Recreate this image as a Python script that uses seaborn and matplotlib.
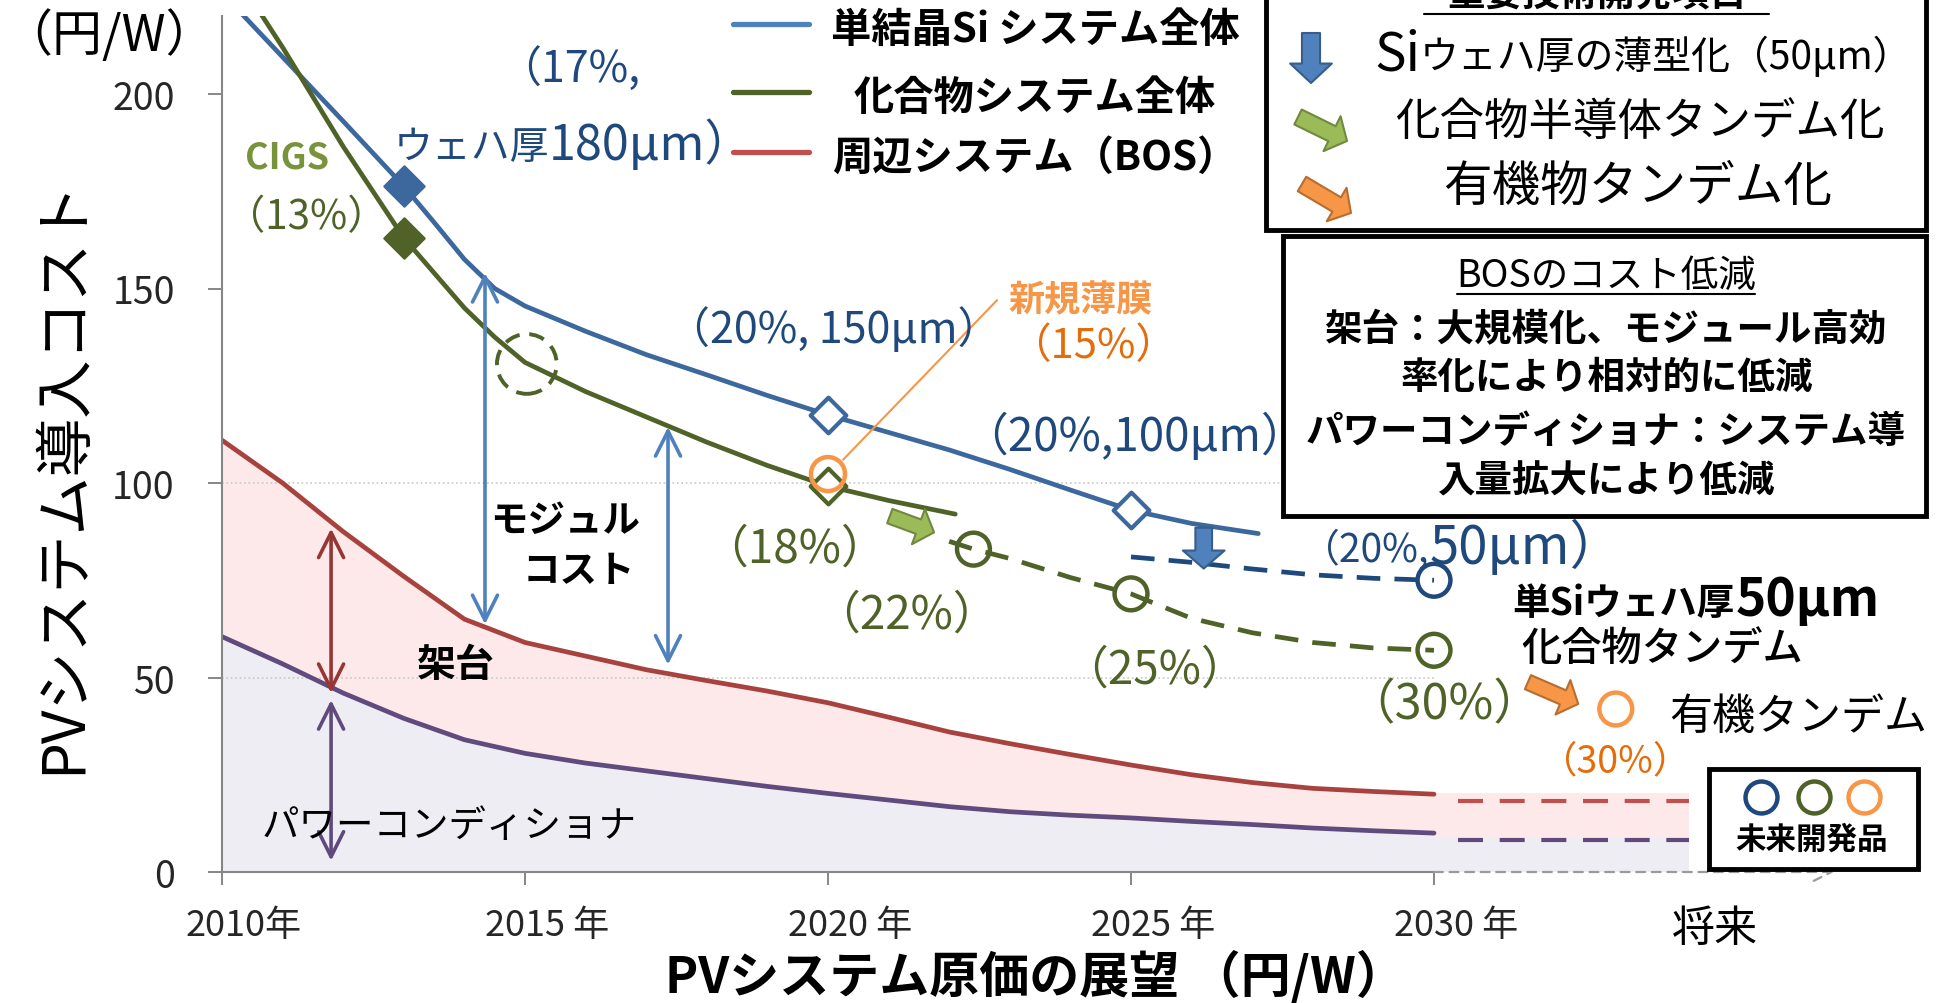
import matplotlib
matplotlib.use("Agg")
import matplotlib.pyplot as plt
import matplotlib.patches as mpatches
from matplotlib.lines import Line2D
from matplotlib.transforms import ScaledTranslation
import seaborn as sns

# ---- data (円/W) ----
years = [2010, 2011, 2012, 2013, 2014, 2015, 2016, 2017, 2018, 2019, 2020,
         2021, 2022, 2023, 2024, 2025, 2026, 2027, 2028, 2029, 2030]
bos_total = [111, 100, 87.5, 76, 65, 59, 55.5, 52, 49.2, 46.5, 43.5,
             39.8, 36, 33, 30.2, 27.5, 25, 23, 21.5, 20.7, 20]
power_cond = [60.5, 53.5, 46, 39.5, 34, 30.5, 28, 26, 24, 22, 20.2,
              18.5, 16.8, 15.5, 14.6, 13.9, 13, 12.2, 11.3, 10.6, 10]

si_years = [2010, 2011, 2012, 2013, 2013.5, 2014, 2014.5, 2015, 2016, 2017,
            2018, 2019, 2020, 2021, 2022, 2023, 2024, 2025, 2026, 2027.1]
si_cost = [226, 209.5, 193, 176.3, 167, 157.5, 150, 145.5, 139, 133,
           127.8, 122.5, 117.5, 113, 108.5, 103.5, 98.2, 93, 89.6, 87]

comp_years = [2010, 2011, 2012, 2013, 2014, 2014.5, 2015, 2016, 2017, 2018,
              2019, 2020, 2021, 2022.1]
comp_cost = [236, 212, 186.5, 163, 145, 137.5, 131, 123.5, 117, 110.5,
             104.5, 99.2, 95.5, 92]

si_fut_years = [2025, 2026, 2027, 2028, 2029, 2030]
si_fut_cost = [81, 79.6, 77.9, 76.4, 75.5, 75]
comp_fut_years = [2022.0, 2022.4, 2023, 2024, 2025, 2026, 2027, 2028, 2029, 2030]
comp_fut_cost = [85, 83, 80.6, 75.7, 71.5, 65.2, 61.5, 59, 57.6, 57]

si_filled = ([2013], [176.3])
si_hollow = ([2020, 2025], [117.5, 93])
comp_filled = ([2013], [163])
comp_hollow = ([2020], [99.2])
si_future_pt = ([2030], [75])
comp_future_pts = ([2022.4, 2025, 2030], [83, 71.5, 57])
thin_film_pt = ([2020], [102.3])
organic_pt = ([2033.0], [41.9])
cigs_pt = ([2015.03], [130.6])

fut_fill_years = [2030, 2034.2]
fut_bos_top = [20.2, 20.2]
fut_pc_top = [8.8, 8.8]
fut_line_years = [2030.4, 2034.2]
fut_bos = [18.3, 18.3]
fut_pc = [8.2, 8.2]

tick_years = [2010, 2015, 2020, 2025, 2030]
tick_labels = ["2010年", "2015 年", "2020 年", "2025 年", "2030 年"]
ytick_vals = [0, 50, 100, 150, 200]

# ---- figure ----
sns.set_style("white")
plt.rcParams['font.family'] = ['Noto Sans CJK JP', 'DejaVu Sans']

W, H = 1948, 1004
fig = plt.figure(figsize=(W / 100, H / 100), dpi=100)
ax = fig.add_axes([222 / W, 131 / H, (W - 222) / W, (873 - 17) / H])
ax.set_xlim(2010, 2010 + (W - 222) / 60.6)
ax.set_ylim(0, 856 / 3.89)


def fx(x):
    return x / W


def fy(y):
    return 1 - y / H


def put(x, y, s, size, color='black', weight='normal', ha='center', **kw):
    fig.text(fx(x), fy(y), s, fontsize=size, color=color, fontweight=weight,
             ha=ha, va='center', **kw)


GREY = '#868686'
BLUE = '#3C689E'
DBLUE = '#1F497D'
GREEN = '#4F6228'
RED = '#A8423F'
PURPLE = '#5F4B7D'
ORANGE = '#F79646'
DORANGE = '#E46C0A'

# fills
ax.fill_between(years, 0, power_cond, color='#EFEDF4', lw=0, zorder=0)
ax.fill_between(years, power_cond, bos_total, color='#FDE9E9', lw=0, zorder=0)
ax.fill_between(fut_fill_years, 0, fut_pc_top, color='#EFEDF4', lw=0, zorder=0)
ax.fill_between(fut_fill_years, fut_pc_top, fut_bos_top, color='#FDE9E9', lw=0, zorder=0)

ax.hlines([50, 100], 2010, 2030, colors='#C8C8C8', linestyles=':', lw=1.2, zorder=0.5)

# lines
sns.lineplot(x=years, y=bos_total, ax=ax, color=RED, lw=3.4)
sns.lineplot(x=years, y=power_cond, ax=ax, color=PURPLE, lw=3.4)
sns.lineplot(x=si_years, y=si_cost, ax=ax, color=BLUE, lw=3.4)
sns.lineplot(x=comp_years, y=comp_cost, ax=ax, color=GREEN, lw=3.4)
sns.lineplot(x=si_fut_years, y=si_fut_cost, ax=ax, color=DBLUE, lw=3.4,
             linestyle=(0, (5, 3)))
sns.lineplot(x=comp_fut_years, y=comp_fut_cost, ax=ax, color=GREEN, lw=3.4,
             linestyle=(0, (5, 3)))
sns.lineplot(x=fut_line_years, y=fut_bos, ax=ax, color='#C0504D', lw=3,
             linestyle=(0, (6, 4)))
sns.lineplot(x=fut_line_years, y=fut_pc, ax=ax, color='#604A7B', lw=3,
             linestyle=(0, (6, 4)))

# markers
sns.scatterplot(x=si_filled[0], y=si_filled[1], ax=ax, marker='D', s=420,
                color=BLUE, edgecolor=BLUE, zorder=5)
sns.scatterplot(x=comp_filled[0], y=comp_filled[1], ax=ax, marker='D', s=420,
                color=GREEN, edgecolor=GREEN, zorder=5)
sns.scatterplot(x=si_hollow[0], y=si_hollow[1], ax=ax, marker='D', s=330,
                facecolor='white', edgecolor=BLUE, linewidth=3, zorder=5)
sns.scatterplot(x=comp_hollow[0], y=comp_hollow[1], ax=ax, marker='D', s=330,
                facecolor='white', edgecolor=GREEN, linewidth=3, zorder=5)
sns.scatterplot(x=comp_future_pts[0], y=comp_future_pts[1], ax=ax, marker='o',
                s=560, facecolor='none', edgecolor=GREEN, linewidth=3.2, zorder=5)
sns.scatterplot(x=si_future_pt[0], y=si_future_pt[1], ax=ax, marker='o',
                s=560, facecolor='none', edgecolor=DBLUE, linewidth=3.2, zorder=5)
sns.scatterplot(x=thin_film_pt[0], y=thin_film_pt[1], ax=ax, marker='o',
                s=600, facecolor='none', edgecolor=ORANGE, linewidth=3.2, zorder=6)
sns.scatterplot(x=organic_pt[0], y=organic_pt[1], ax=ax, marker='o',
                s=560, facecolor='none', edgecolor=ORANGE, linewidth=3.2, zorder=6)
sns.scatterplot(x=cigs_pt[0], y=cigs_pt[1], ax=ax, marker='o', s=1850,
                facecolor='none', edgecolor=GREEN, linewidth=2.8,
                linestyle=(0, (4, 2.5)), zorder=5)

# connector to 新規薄膜
ax.plot([2020.25, 2022.79], [106, 147], color=ORANGE, lw=1.5, zorder=4)


# double arrows
def dbl(x, y0, y1, c):
    ax.annotate('', xy=(x, y1), xytext=(x, y0),
                arrowprops=dict(arrowstyle='<->,head_length=0.9,head_width=0.45',
                                color=c, lw=2.6, shrinkA=0, shrinkB=0,
                                mutation_scale=20), zorder=4)


dbl(2014.34, 63.7, 154, '#4F81BD')
dbl(2017.36, 53.3, 114.4, '#4F81BD')
dbl(2011.8, 46, 88.3, '#953735')
dbl(2011.8, 2.9, 44.2, '#604A7B')


# block arrows
def block(p0, p1, fc, ec, transform, hl=13, hw=30, tw=12):
    fig.add_artist(mpatches.FancyArrowPatch(
        p0, p1, transform=transform, mutation_scale=1,
        arrowstyle=f'simple,head_length={hl},head_width={hw},tail_width={tw}',
        fc=fc, ec=ec, lw=1.5, shrinkA=0, shrinkB=0, zorder=6))


block((2026.2, 88.5), (2026.2, 78), '#4F81BD', '#385D8A', ax.transData)
block((2021.02, 91.5), (2021.75, 87.3), '#9BBB59', '#71893F', ax.transData,
      hl=12, hw=27, tw=11)
block((2031.55, 48.8), (2032.38, 43.2), ORANGE, '#B66D31', ax.transData,
      hl=12, hw=27, tw=11)

# axes styling
ax.set_xticks(tick_years)
ax.set_xticklabels(tick_labels)
ax.set_yticks(ytick_vals)
ax.tick_params(axis='x', length=9.5, width=1.4, color=GREY, pad=16, labelsize=26,
               bottom=True)
ax.tick_params(axis='y', length=10, width=1.4, color=GREY, pad=24, labelsize=27,
               left=True)
for lab in ax.get_xticklabels():
    lab.set_transform(lab.get_transform() + ScaledTranslation(0.22, 0, fig.dpi_scale_trans))
for s in ['top', 'right']:
    ax.spines[s].set_visible(False)
for s in ['left', 'bottom']:
    ax.spines[s].set_color(GREY)
    ax.spines[s].set_linewidth(1.5)
ax.spines['bottom'].set_bounds(2010, 2030)
fig.add_artist(mpatches.FancyArrowPatch(
    (2030, 0), (2036.6, 0), transform=ax.transData, mutation_scale=16,
    arrowstyle='->,head_length=0.8,head_width=0.4', color='#9A9A9A', lw=1.6,
    ls=(0, (4, 3)), shrinkA=0, shrinkB=0))
ax.set_xlabel('')
ax.set_ylabel('')

# axis titles
put(2, 37, '（円/W）', 36, ha='left')
put(64, 476, 'PVシステム導入コスト', 42, rotation=90)
put(1035, 978, 'PVシステム原価の展望 （円/W）', 36, weight='bold')
put(1715, 930, '将来', 31)

# top legend
for yy, c, lab in [(25, '#4F81BD', '単結晶Si システム全体'),
                   (93, GREEN, '化合物システム全体'),
                   (153, '#C0504D', '周辺システム（BOS）')]:
    fig.add_artist(Line2D([fx(733), fx(809)], [fy(yy), fy(yy)],
                          transform=fig.transFigure, color=c, lw=3.8))
    put(1035, yy + 5, lab, 29, weight='bold')

# box 1: 重要技術開発項目
fig.add_artist(mpatches.Rectangle((fx(1266), fy(231)), (1926 - 1266) / W, (231 + 20) / H,
                                  transform=fig.transFigure, fc='white', ec='black', lw=3.5))
put(1597, -6, '重要技術開発項目', 27, weight='bold')
fig.add_artist(Line2D([fx(1424), fx(1769)], [fy(15), fy(15)], transform=fig.transFigure,
                      color='black', lw=1.5))
put(1420, 55, 'Si', 38, ha='right')
put(1420, 57, 'ウェハ厚の薄型化（50μm）', 28, ha='left')
put(1640, 122, '化合物半導体タンデム化', 32)
put(1638, 187, '有機物タンデム化', 35)
block((fx(1311), fy(34)), (fx(1311), fy(84)), '#4F81BD', '#385D8A', fig.transFigure,
      hl=14, hw=30, tw=13)
block((fx(1298), fy(118)), (fx(1347), fy(142)), '#9BBB59', '#71893F', fig.transFigure,
      hl=12, hw=28, tw=12)
block((fx(1302), fy(185)), (fx(1351), fy(214)), ORANGE, '#B66D31', fig.transFigure,
      hl=12, hw=28, tw=12)

# box 2: BOS
fig.add_artist(mpatches.Rectangle((fx(1283), fy(517)), (1926 - 1283) / W, (517 - 237) / H,
                                  transform=fig.transFigure, fc='white', ec='black', lw=3.5))
put(1606, 276, 'BOSのコスト低減', 27)
fig.add_artist(Line2D([fx(1457), fx(1755)], [fy(295), fy(295)], transform=fig.transFigure,
                      color='black', lw=1.5))
put(1605, 330, '架台：大規模化、モジュール高効', 27, weight='bold')
put(1607, 377, '率化により相対的に低減', 27, weight='bold')
put(1606, 432, 'パワーコンディショナ：システム導', 27, weight='bold')
put(1607, 481, '入量拡大により低減', 27, weight='bold')

# small legend box
fig.add_artist(mpatches.Rectangle((fx(1709), fy(870)), (1918 - 1709) / W, 100 / H,
                                  transform=fig.transFigure, fc='white', ec='black', lw=3.5))
for cx, c in [(1761, DBLUE), (1814, GREEN), (1864, ORANGE)]:
    fig.add_artist(Line2D([fx(cx)], [fy(798)], transform=fig.transFigure, marker='o',
                          ms=23, mfc='none', mec=c, mew=3.2, ls='none'))
put(1812, 840, '未来開発品', 22, weight='bold')

# annotations in plot area
put(569, 69, '（17%,', 31, color=DBLUE)
put(549, 148, 'ウェハ厚', 28, color=DBLUE, ha='right')
put(549, 145, '180μm）', 35, color=DBLUE, ha='left')
put(287, 158, 'CIGS', 26, color='#77933C', weight='bold')
put(306, 218, '（13%）', 29, color=GREEN)
put(834, 330, '（20%, 150μm）', 31, color=DBLUE)
put(1081, 301, '新規薄膜', 26, color=ORANGE, weight='bold')
put(1093, 347, '（15%）', 30, color=DORANGE)
put(1135, 438, '（20%,100μm）', 33, color=DBLUE)
put(794, 549, '（18%）', 33, color=GREEN)
put(906, 615, '（22%）', 33, color=GREEN)
put(1155, 670, '（25%）', 33, color=GREEN)
put(1444, 706, '（30%）', 35, color=GREEN)
put(1616, 762, '（30%）', 27, color=DORANGE)
put(1430, 550, '（20%,', 28, color=DBLUE, ha='right')
put(1430, 548, '50μm）', 38, color=DBLUE, ha='left')
put(1734, 604, '単Siウェハ厚', 27, weight='bold', ha='right')
put(1736, 600, '50μm', 37, weight='bold', ha='left')
put(1662, 649, '化合物タンデム', 29, weight=500)
put(1798, 718, '有機タンデム', 31)
put(449, 826, 'パワーコンディショナ', 27)
put(456, 666, '架台', 28, weight='bold')
put(565, 520, 'モジュル', 27, weight='bold')
put(579, 570, 'コスト', 27, weight='bold')

fig.savefig('out.png', dpi=100)
